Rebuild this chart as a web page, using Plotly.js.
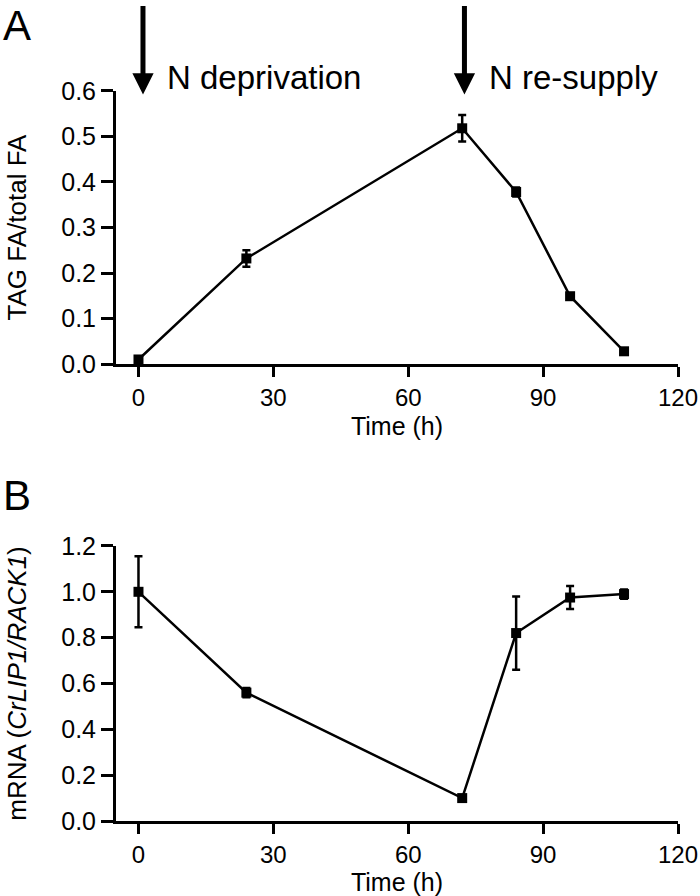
<!DOCTYPE html>
<html>
<head>
<meta charset="utf-8">
<script src="https://cdn.plot.ly/plotly-3.0.1.min.js"></script>
<style>
  html, body { margin: 0; padding: 0; background: #fff; }
  #chart { width: 700px; height: 896px; }
</style>
</head>
<body>
<div id="chart"></div>
<script>
// time points (h)
var timeH = [0, 24, 72, 84, 96, 108];

// panel A: TAG fatty acids as fraction of total FA
var tagFrac = [0.010, 0.232, 0.518, 0.378, 0.149, 0.028];
var tagErr  = [0.004, 0.018, 0.029, 0.010, 0.006, 0.004];

// panel B: CrLIP1 mRNA relative to RACK1
var mrnaRel = [1.00, 0.56, 0.10, 0.82, 0.975, 0.99];
var mrnaErr = [0.155, 0.02, 0.01, 0.16, 0.05, 0.02];

var xTicks = [0, 30, 60, 90, 120];
var yTicksA = [0, 0.1, 0.2, 0.3, 0.4, 0.5, 0.6];
var yTicksB = [0, 0.2, 0.4, 0.6, 0.8, 1.0, 1.2];

// treatment events
var eventTimes = [1, 72.5];
var eventLabels = ['N deprivation', 'N re-supply'];

var FONT = 'Liberation Sans, Arial, Helvetica, sans-serif';

function seriesTrace(y, err, xa, ya) {
    return {
        x: timeH,
        y: y,
        xaxis: xa,
        yaxis: ya,
        type: 'scatter',
        mode: 'lines+markers',
        line: {color: '#000', width: 2.5},
        marker: {symbol: 'square', size: 10, color: '#000'},
        error_y: {type: 'data', array: err, visible: true, color: '#000', thickness: 2.5, width: 4},
        cliponaxis: false,
        showlegend: false
    };
}

var data = [
    seriesTrace(tagFrac, tagErr, 'x', 'y'),
    seriesTrace(mrnaRel, mrnaErr, 'x2', 'y2')
];

function xAxis(anchor) {
    return {
        anchor: anchor,
        domain: [0, 1],
        range: [-5, 120],
        tickvals: xTicks,
        ticks: 'outside',
        ticklen: 10,
        tickwidth: 3,
        tickcolor: '#000',
        showline: true,
        linewidth: 3,
        linecolor: '#000',
        showgrid: false,
        zeroline: false,
        tickfont: {family: FONT, size: 24, color: '#000'},
        title: {text: 'Time (h)', font: {family: FONT, size: 25, color: '#000'}, standoff: 8}
    };
}

function yAxis(anchor, domain, range, ticks, fmt, title) {
    return {
        anchor: anchor,
        domain: domain,
        range: range,
        tickvals: ticks,
        tickformat: fmt,
        ticks: 'outside',
        ticklen: 12,
        tickwidth: 3,
        tickcolor: '#000',
        showline: true,
        linewidth: 3,
        linecolor: '#000',
        showgrid: false,
        zeroline: false,
        tickfont: {family: FONT, size: 25, color: '#000'},
        title: {text: title, font: {family: FONT, size: 26, color: '#000'}, standoff: 28}
    };
}

var annotations = [];
for (let i = 0; i < eventTimes.length; i++) {
    annotations.push({
        x: eventTimes[i], y: 0.592, xref: 'x', yref: 'y',
        ax: 0, ay: -90, axref: 'pixel', ayref: 'pixel',
        showarrow: true, arrowhead: 2, arrowsize: 0.85, arrowwidth: 5, arrowcolor: '#000',
        text: ''
    });
    annotations.push({
        x: eventTimes[i] + 5, y: 0.906, xref: 'x', yref: 'paper',
        xanchor: 'left', yanchor: 'middle', showarrow: false,
        text: eventLabels[i],
        font: {family: FONT, size: 33, color: '#000'}
    });
}
annotations.push({x: -0.205, y: 1.0, xref: 'paper', yref: 'paper', xanchor: 'left', yanchor: 'top',
    showarrow: false, text: 'A', font: {family: FONT, size: 42, color: '#000'}});
annotations.push({x: -0.205, y: 0.4275, xref: 'paper', yref: 'paper', xanchor: 'left', yanchor: 'top',
    showarrow: false, text: 'B', font: {family: FONT, size: 42, color: '#000'}});

var layout = {
    width: 700,
    height: 896,
    margin: {l: 116, r: 22, t: 0, b: 75},
    paper_bgcolor: '#fff',
    plot_bgcolor: '#fff',
    xaxis: xAxis('y'),
    yaxis: yAxis('x', [0.5566, 0.8892], [0, 0.6], yTicksA, '.1f', 'TAG FA/total FA'),
    xaxis2: xAxis('y2'),
    yaxis2: yAxis('x2', [0, 0.3350], [0, 1.2], yTicksB, '.1f', 'mRNA (<i>CrLIP1/RACK1</i>)'),
    annotations: annotations
};

Plotly.newPlot('chart', data, layout, {displayModeBar: false, staticPlot: true});
</script>
</body>
</html>
